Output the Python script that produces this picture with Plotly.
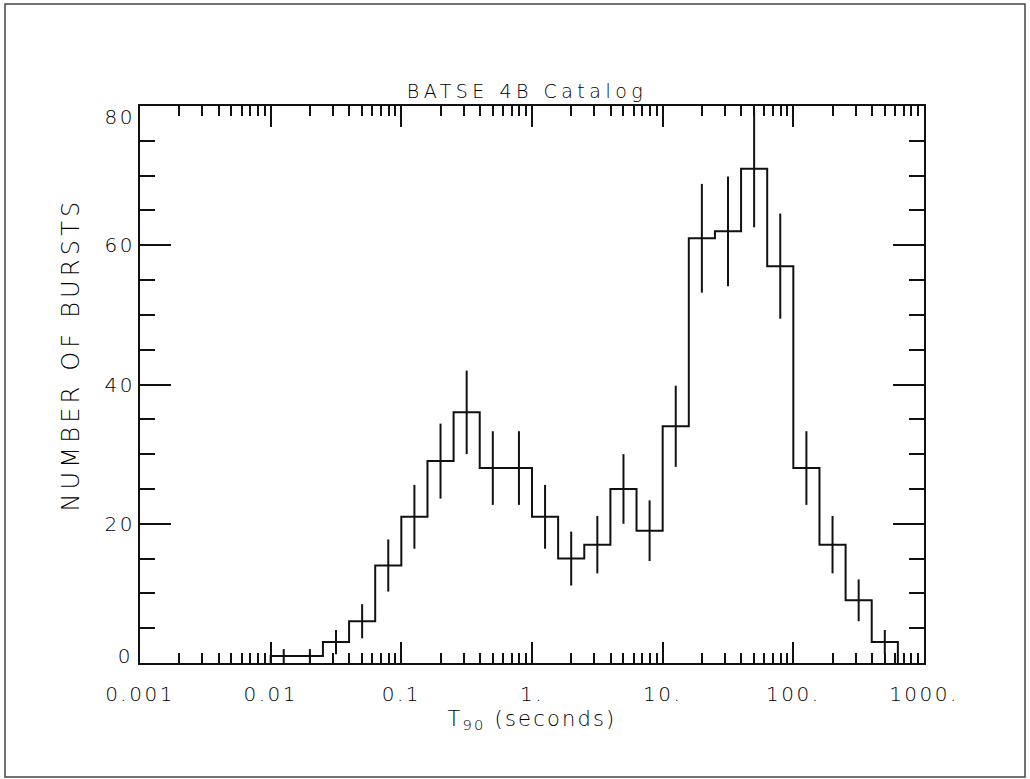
import numpy as np
import plotly.graph_objects as go

# ---- data ----
log_bin_edges = [-2.0, -1.8, -1.6, -1.4, -1.2, -1.0, -0.8, -0.6, -0.4, -0.2, 0.0,
                 0.2, 0.4, 0.6, 0.8, 1.0, 1.2, 1.4, 1.6, 1.8, 2.0, 2.2, 2.4, 2.6, 2.8]
burst_counts = [1, 1, 3, 6, 14, 21, 29, 36, 28, 28, 21, 15, 17, 25, 19,
                34, 61, 62, 71, 57, 28, 17, 9, 3]
x_tick_values = [0.001, 0.01, 0.1, 1, 10, 100, 1000]
x_tick_labels = ["0.001", "0.01", "0.1", "1.", "10.", "100.", "1000."]
y_tick_values = [0, 20, 40, 60, 80]
y_label_shift = [7, 0, 0, 0, -11]

FONT = "DejaVu Sans"
INK = "#111111"
TXT = "#000000"

edges = 10 ** np.array(log_bin_edges)
counts = np.array(burst_counts, dtype=float)
centers = 10 ** ((np.array(log_bin_edges[:-1]) + np.array(log_bin_edges[1:])) / 2)
errors = np.sqrt(counts)

# step outline (vertical up at first edge, steps, drop to zero at last edge)
step_x = np.concatenate([[edges[0]], edges[:-1], [edges[-1]], [edges[-1]]])
step_y = np.concatenate([[0], counts, [counts[-1]], [0]])

minor_x = [m * 10.0 ** k for k in range(-3, 3) for m in range(2, 10)]

fig = go.Figure()
fig.add_trace(go.Scatter(x=step_x, y=step_y, mode="lines", line_shape="hv",
                         line=dict(color=INK, width=2), hoverinfo="skip"))
fig.add_trace(go.Scatter(x=centers, y=counts, mode="markers",
                         marker=dict(size=0, opacity=0),
                         error_y=dict(type="data", array=errors, visible=True,
                                      width=0, thickness=2, color=INK)))

W, H = 1030, 779
L, R, T, B = 140, 106, 106, 116
pw, ph = W - L - R, H - T - B

fig.update_layout(
    width=W, height=H, showlegend=False,
    margin=dict(l=L, r=R, t=T, b=B, autoexpand=False),
    paper_bgcolor="white", plot_bgcolor="white",
    font=dict(family=FONT, color=TXT, weight=300),
    title=dict(text="BATSE 4B Catalog", x=527 / W, xanchor="center",
               y=1 - 91 / H, yanchor="middle", yref="container",
               font=dict(size=19, family=FONT, color=TXT, weight=300)),
    xaxis=dict(type="log", range=[-3, 3], showgrid=False, zeroline=False,
               showline=True, linecolor=INK, linewidth=2, mirror="allticks",
               ticks="inside", ticklen=21, tickwidth=2, tickcolor=INK,
               tickvals=x_tick_values, ticktext=x_tick_labels,
               tickfont=dict(size=20, family=FONT, color=TXT, weight=300),
               ticklabelstandoff=12,
               minor=dict(tickvals=minor_x, ticks="inside", ticklen=10,
                          tickwidth=2, tickcolor=INK, showgrid=False),
               title=dict(text="T<sub>90</sub> (seconds)", standoff=6,
                          font=dict(size=21, family=FONT, color=TXT, weight=300))),
    yaxis=dict(range=[0, 80], showgrid=False, zeroline=False,
               showline=True, linecolor=INK, linewidth=2, mirror="allticks",
               ticks="inside", ticklen=31, tickwidth=2, tickcolor=INK,
               tickvals=y_tick_values, showticklabels=False,
               minor=dict(dtick=5, ticks="inside", ticklen=15,
                          tickwidth=2, tickcolor=INK, showgrid=False)),
)

for v, s in zip(y_tick_values, y_label_shift):
    fig.add_annotation(x=0, xref="paper", xanchor="right", xshift=-6,
                       y=v, yref="y", yanchor="middle", yshift=s,
                       text=str(v), showarrow=False,
                       font=dict(size=20, family=FONT, color=TXT, weight=300))

# y-axis title
fig.add_annotation(x=(71 - L) / pw, xref="paper", xanchor="center",
                   y=(H - B - 355) / ph, yref="paper", yanchor="middle",
                   text="NUMBER OF BURSTS", textangle=-90, showarrow=False,
                   font=dict(size=24, family=FONT, color=TXT, weight=300))

# outer frame around the whole page
fig.add_shape(type="rect", xref="paper", yref="paper",
              x0=(5 - L) / pw, x1=(1025 - L) / pw,
              y0=(H - B - 777) / ph, y1=(H - B - 4) / ph,
              line=dict(color="#444444", width=1.5), fillcolor="rgba(0,0,0,0)")

# wide letter spacing like the original stroke font
post = """
var gd = document.getElementById('{plot_id}');
function sp(sel, v) {
  gd.querySelectorAll(sel).forEach(function(e){ e.style.letterSpacing = v; });
}
sp('.gtitle', '4.5px');
sp('.xtick text', '2.5px');
sp('.xtitle', '2.2px');
sp('.annotation-text', '2.5px');
var ann = gd.querySelectorAll('.annotation-text');
ann.forEach(function(e){ if (e.textContent === 'NUMBER OF BURSTS') e.style.letterSpacing = '4.2px'; });
"""

fig.write_html("out.html", post_script=post)
